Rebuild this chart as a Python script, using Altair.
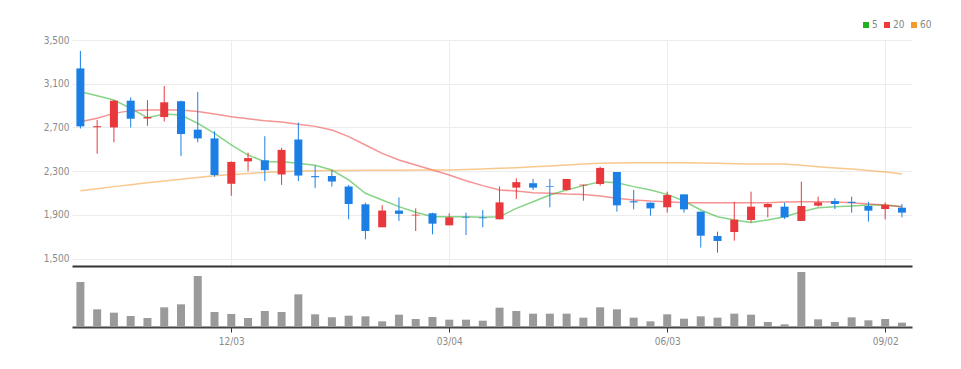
import altair as alt
import pandas as pd

# ---- data (weekly candles) ----
idx = list(range(50))
opens = [3240, 2702, 2700, 2945, 2782, 2795, 2940, 2680, 2600, 2185,
         2390, 2400, 2270, 2590, 2255, 2256, 2160, 1997, 1787, 1940,
         1895, 1915, 1805, 1882, 1876, 1860, 2150, 2190, 2162, 2128,
         2170, 2183, 2293, 2025, 2012, 1970, 2088, 1930, 1707, 1744,
         1854, 1970, 1976, 1845, 1985, 2027, 2020, 1982, 1954, 1966]
highs = [3400, 2770, 2950, 2975, 2950, 3080, 2945, 3025, 2665, 2390,
         2470, 2620, 2515, 2745, 2350, 2310, 2175, 2012, 1990, 2060,
         1960, 1920, 1915, 1920, 1945, 2160, 2235, 2230, 2230, 2229,
         2177, 2341, 2293, 2128, 2015, 2113, 2088, 1930, 1747, 2021,
         2113, 2006, 2012, 2204, 2067, 2052, 2067, 2021, 2015, 2000]
lows = [2690, 2460, 2565, 2700, 2715, 2755, 2440, 2565, 2250, 2075,
        2300, 2210, 2175, 2210, 2145, 2160, 1860, 1677, 1787, 1845,
        1753, 1723, 1805, 1716, 1787, 1860, 2046, 2128, 1970, 2122,
        2030, 2168, 1930, 1951, 1893, 1921, 1921, 1601, 1555, 1665,
        1829, 1878, 1863, 1845, 1976, 1954, 1921, 1838, 1860, 1878]
closes = [2710, 2712, 2945, 2780, 2795, 2930, 2640, 2600, 2265, 2385,
          2420, 2310, 2495, 2260, 2245, 2205, 2000, 1753, 1940, 1910,
          1902, 1820, 1878, 1876, 1870, 2015, 2200, 2150, 2156, 2229,
          2177, 2330, 1988, 2015, 1960, 2082, 1951, 1710, 1662, 1857,
          1976, 2000, 1878, 1982, 2015, 2000, 2010, 1939, 1991, 1921]
volumes = [135, 53, 43, 33, 27, 59, 68, 153, 45, 39,
           27, 48, 45, 98, 38, 29, 34, 32, 17, 37,
           24, 30, 22, 22, 19, 58, 48, 40, 40, 40,
           28, 59, 53, 28, 17, 38, 25, 32, 28, 40,
           37, 15, 8, 165, 23, 15, 29, 20, 24, 13]
ma5 = [3027, 2990, 2951, 2875, 2790, 2823, 2814, 2738, 2646, 2540,
       2448, 2387, 2387, 2372, 2355, 2311, 2220, 2098, 2037, 1976,
       1924, 1884, 1884, 1884, 1878, 1884, 1960, 2021, 2082, 2128,
       2168, 2204, 2195, 2159, 2128, 2088, 2027, 1945, 1884, 1854,
       1832, 1854, 1884, 1930, 1966, 1976, 1982, 1991, 1991, 1976]
ma20 = [2753, 2784, 2829, 2854, 2860, 2860, 2860, 2845, 2823, 2799,
        2780, 2762, 2750, 2729, 2710, 2677, 2616, 2540, 2463, 2402,
        2357, 2311, 2265, 2213, 2168, 2128, 2119, 2104, 2098, 2091,
        2088, 2073, 2052, 2037, 2027, 2021, 2012, 2012, 2012, 2012,
        2012, 2012, 2018, 2021, 2021, 2018, 2012, 2000, 1991, 1976]
ma60 = [2122, 2140, 2159, 2177, 2195, 2210, 2226, 2243, 2259, 2270,
        2280, 2289, 2296, 2301, 2305, 2306, 2307, 2308, 2308, 2309,
        2310, 2310, 2311, 2315, 2320, 2326, 2332, 2340, 2348, 2357,
        2366, 2372, 2375, 2377, 2378, 2378, 2378, 2376, 2372, 2369,
        2366, 2366, 2366, 2355, 2341, 2330, 2320, 2306, 2293, 2274]
ma_names = ["5", "20", "60"]
tick_pos = [9, 22, 35, 48]
tick_labels = ["12/03", "03/04", "06/03", "09/02"]
price_ticks = [1500, 1900, 2300, 2700, 3100, 3500]

RED = "#e8383c"
BLUE = "#1b7fe6"
MA_COLORS = ["#22b122", "#ee3a3a", "#f39a30"]
FONT = "DejaVu Sans Condensed"

df = pd.DataFrame({"i": idx, "open": opens, "high": highs, "low": lows,
                   "close": closes, "vol": volumes})
df["dir"] = ["up" if c >= o else "down" for o, c in zip(opens, closes)]

ma_df = pd.concat([
    pd.DataFrame({"i": idx, "val": vals, "ma": name})
    for name, vals in zip(ma_names, [ma5, ma20, ma60])
])

label_expr = " : ".join(f"datum.value == {p} ? '{l}'" for p, l in zip(tick_pos, tick_labels)) + " : ''"

x_scale = alt.Scale(domain=[-0.5, 49.6], nice=False, zero=False, padding=0)
y_scale = alt.Scale(domain=[1433, 3500], nice=False, zero=False)

x_price = alt.X("i:Q", scale=x_scale,
                axis=alt.Axis(values=tick_pos, labels=False, ticks=False, domain=True,
                              domainColor="#333333", domainWidth=2, grid=True,
                              gridColor="#ececec", title=None, minExtent=0, maxExtent=0))
y_price = alt.Y("low:Q", scale=y_scale,
                axis=alt.Axis(values=price_ticks, format=",.0f", grid=True, gridColor="#ececec",
                              domain=False, ticks=False, labelColor="#8a8a8a", labelFontSize=10,
                              labelPadding=3, title=None, minExtent=64, maxExtent=64))
candle_color = alt.Color("dir:N", scale=alt.Scale(domain=["up", "down"], range=[RED, BLUE]),
                         legend=None)

base = alt.Chart(df)
wicks = base.mark_rule(strokeWidth=1).encode(x=x_price, y=y_price, y2="high:Q", color=candle_color)
bodies = base.mark_bar(size=8).encode(x=x_price, y=alt.Y("open:Q", scale=y_scale),
                                      y2="close:Q", color=candle_color)
lines = alt.Chart(ma_df).mark_line(strokeWidth=1.5, opacity=0.55).encode(
    x=x_price,
    y=alt.Y("val:Q", scale=y_scale),
    color=alt.Color("ma:N", scale=alt.Scale(domain=ma_names, range=MA_COLORS),
                    legend=alt.Legend(orient="none", legendX=789, legendY=-20,
                                      direction="horizontal", columns=3, gridAlign="none",
                                      title=None, symbolType="square", symbolSize=4,
                                      symbolStrokeWidth=4, symbolOpacity=1,
                                      labelFontSize=10, labelColor="#888888",
                                      labelFont=FONT, columnPadding=0, labelOffset=1,
                                      padding=0, offset=0)),
)

price = alt.layer(lines, wicks, bodies).resolve_scale(color="independent").properties(
    width=840, height=226)

vol = alt.Chart(df).mark_bar(size=8, color="#9a9a9a").encode(
    x=alt.X("i:Q", scale=x_scale,
            axis=alt.Axis(values=tick_pos, labelExpr=label_expr, grid=False, ticks=True,
                          tickColor="#333333", tickSize=5, tickWidth=1, domainColor="#444444",
                          domainWidth=2, labelColor="#8a8a8a", labelFontSize=10,
                          labelPadding=4, title=None)),
    y=alt.Y("vol:Q", scale=alt.Scale(domain=[0, 180], nice=False), axis=None),
).properties(width=840, height=60)

chart = alt.vconcat(price, vol, spacing=1).properties(
    padding={"left": 0, "top": 12, "right": 0, "bottom": 5}
).configure_view(stroke=None).configure_axis(labelFont=FONT)

chart.save("out.html", embed_options={"renderer": "svg", "actions": False})
